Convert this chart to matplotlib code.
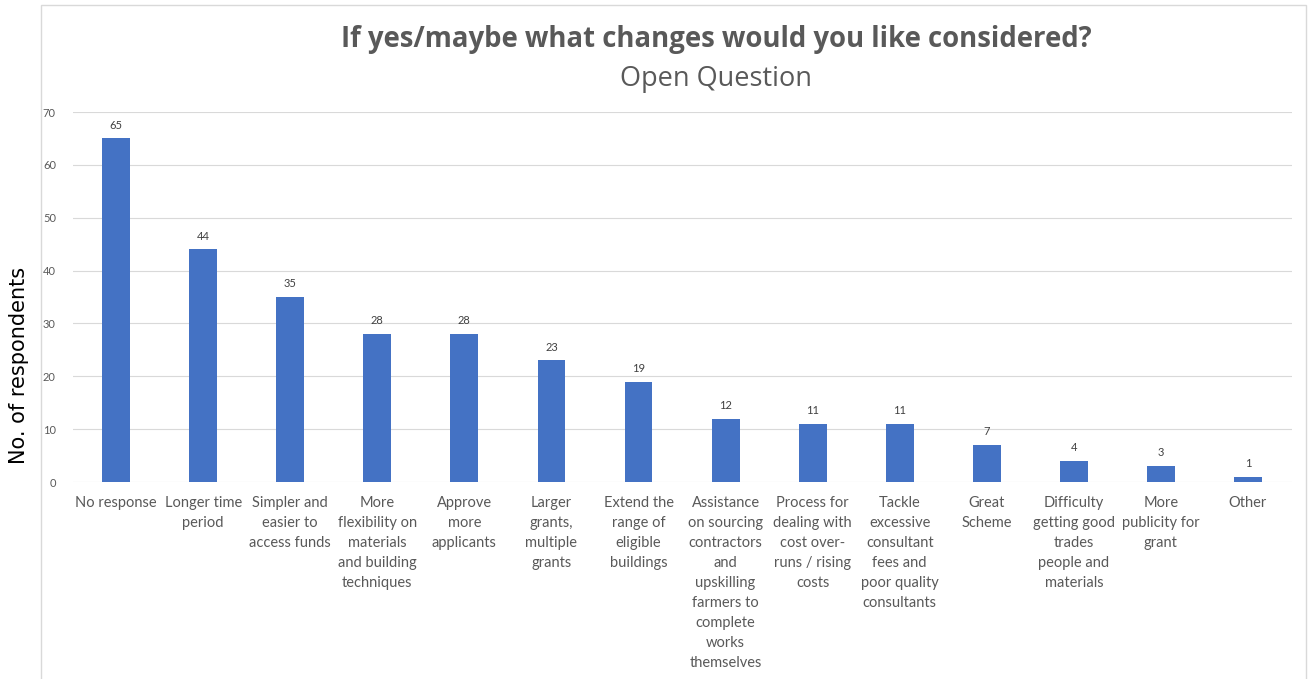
import matplotlib
matplotlib.use('Agg')
import matplotlib.pyplot as plt
from matplotlib.patches import Rectangle

categories = [
    'No response', 'Longer time\nperiod', 'Simpler and\neasier to\naccess funds',
    'More\nflexibility on\nmaterials\nand building\ntechniques',
    'Approve\nmore\napplicants', 'Larger\ngrants,\nmultiple\ngrants',
    'Extend the\nrange of\neligible\nbuildings',
    'Assistance\non sourcing\ncontractors\nand\nupskilling\nfarmers to\ncomplete\nworks\nthemselves',
    'Process for\ndealing with\ncost over-\nruns / rising\ncosts',
    'Tackle\nexcessive\nconsultant\nfees and\npoor quality\nconsultants',
    'Great\nScheme', 'Difficulty\ngetting good\ntrades\npeople and\nmaterials',
    'More\npublicity for\ngrant', 'Other',
]
counts = [65, 44, 35, 28, 28, 23, 19, 12, 11, 11, 7, 4, 3, 1]
yticks = [0, 10, 20, 30, 40, 50, 60, 70]

BAR = '#4472C4'
GREY = '#595959'
plt.rcParams['font.family'] = ['Lato', 'DejaVu Sans']

fig = plt.figure(figsize=(13.12, 6.79), dpi=100)
fig.patches.append(Rectangle((41 / 1312, -0.01), (1306 - 41) / 1312, 1 - 5 / 679 + 0.01,
                             transform=fig.transFigure, fill=False,
                             edgecolor='#D9D9D9', linewidth=1))
ax = fig.add_axes([0.0553, 0.2901, 0.9291, 0.5449])

x = range(len(categories))
ax.bar(x, counts, width=0.32, color=BAR, zorder=3)
for xi, v in zip(x, counts):
    ax.text(xi, v + 1.5, str(v), ha='center', va='bottom', fontsize=8, color='#404040')

ax.set_xlim(-0.5, len(categories) - 0.5)
ax.set_ylim(0, 70)
ax.set_yticks(yticks)
ax.set_xticks(list(x))
ax.set_xticklabels(categories, fontsize=10.5, color=GREY, linespacing=1.55, va='top')
ax.tick_params(axis='x', length=0, pad=10)
ax.tick_params(axis='y', length=0, labelsize=8, colors=GREY, pad=12)
ax.grid(axis='y', color='#D9D9D9', linewidth=0.8, zorder=0)
for s in ax.spines.values():
    s.set_visible(False)

fig.text(0.0145, 0.4624, 'No. of respondents', rotation=90, ha='center', va='center',
         fontsize=15, color='black', family=['DejaVu Sans'])
fig.text(0.546, 0.942, 'If yes/maybe what changes would you like considered?',
         ha='center', va='center', fontsize=19.8, fontweight='bold', color=GREY,
         family=['Open Sans'])
fig.text(0.546, 0.883, 'Open Question', ha='center', va='center', fontsize=19.5,
         color=GREY, family=['Open Sans'])

fig.savefig('out.png', dpi=100)
